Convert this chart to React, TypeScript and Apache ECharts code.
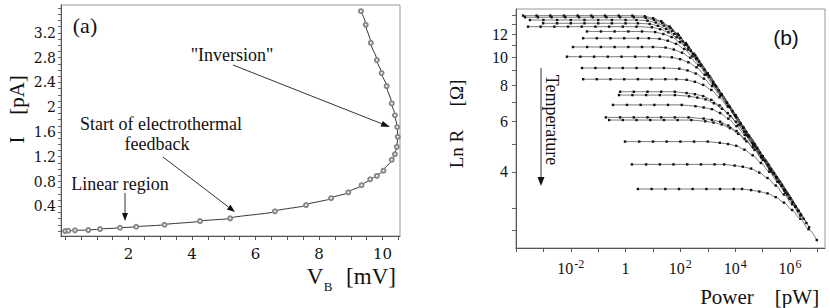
import React, { useEffect, useRef } from "react";
import * as echarts from "echarts";

// ---------- Panel (a): I–V curve ----------
const V_B_MV = [0.0, 0.1, 0.31, 0.73, 1.1, 1.73, 2.24, 3.13, 4.25, 5.2, 6.61, 7.59, 8.38, 8.92, 9.34, 9.61, 9.82, 10.03, 10.29, 10.39, 10.45, 10.48, 10.46, 10.39, 10.29, 10.13, 9.97, 9.82, 9.63, 9.47, 9.32];
const I_PA = [0, 0.005, 0.011, 0.016, 0.032, 0.053, 0.069, 0.102, 0.16, 0.205, 0.318, 0.42, 0.53, 0.625, 0.74, 0.835, 0.89, 0.975, 1.15, 1.24, 1.36, 1.52, 1.68, 1.87, 2.06, 2.34, 2.55, 2.76, 3.04, 3.33, 3.55];
const A_X_LABELS = [2, 4, 6, 8, 10];
const A_X_TICKS = [0, 0.5, 1, 1.5, 2, 2.5, 3, 3.5, 4, 4.5, 5, 5.5, 6, 6.5, 7, 7.5, 8, 8.5, 9, 9.5, 10, 10.5];
const A_Y_LABELS = [0.4, 0.8, 1.2, 1.6, 2, 2.4, 2.8, 3.2];
const A_Y_TICKS = [0, 0.1, 0.2, 0.3, 0.4, 0.5, 0.6, 0.7, 0.8, 0.9, 1, 1.1, 1.2, 1.3, 1.4, 1.5, 1.6, 1.7, 1.8, 1.9, 2, 2.1, 2.2, 2.3, 2.4, 2.5, 2.6, 2.7, 2.8, 2.9, 3, 3.1, 3.2, 3.3, 3.4, 3.5, 3.6];

// ---------- Panel (b): Ln R vs power (x stored as log10 of power in pW) ----------
const B_X_LABEL_EXP = [-2, 0, 2, 4, 6];
const B_X_TICK_EXP = [-4, -3, -2, -1, 0, 1, 2, 3, 4, 5, 6, 7];
const B_Y_LABELS = [4, 6, 8, 10, 12];
const B_Y_TICKS = [2.5, 3, 4, 5, 6, 7, 8, 9, 10, 11, 12, 13, 14];

const CURVE_LEVEL = [13.97, 13.79, 13.49, 13.14, 12.79, 12.31, 11.66, 10.87, 10.06, 9.19, 8.4, 7.6, 7.4, 6.84, 6.19, 6.06, 5.1, 4.25, 3.49];

const CURVE_FLAT_LOGP = [
  [-3.74, -3.25, -2.75, -2.25, -1.75, -1.25, -0.75, -0.25, 0.25],
  [-3.67, -3.2, -2.7, -2.2, -1.7, -1.2, -0.7, -0.2, 0.3],
  [-3.49, -3.0, -2.5, -2.0, -1.5, -1.0, -0.5, 0.0, 0.4],
  [-3.01, -2.5, -2.0, -1.5, -1.0, -0.5, 0.0, 0.45],
  [-3.56, -3.1, -2.6, -2.1, -1.6, -1.1, -0.6, -0.1, 0.4],
  [-1.41, -0.9, -0.4, 0.1, 0.6],
  [-1.55, -1.05, -0.55, -0.05, 0.45, 0.85],
  [-1.92, -1.4, -0.9, -0.4, 0.1, 0.6, 1.0],
  [-2.14, -1.65, -1.15, -0.65, -0.15, 0.35, 0.85, 1.25],
  [-1.59, -1.1, -0.6, -0.1, 0.4, 0.9, 1.4],
  [-1.55, -1.05, -0.55, -0.05, 0.45, 0.95, 1.45, 1.85],
  [-0.2, 0.3, 0.8, 1.3, 1.8],
  [-0.24, 0.25, 0.75, 1.25, 1.8],
  [-0.46, 0.05, 0.55, 1.05, 1.55, 2.05],
  [-0.72, -0.2, 0.3, 0.8, 1.3, 1.8, 2.3],
  [-0.6, -0.1, 0.4, 0.9, 1.4, 1.9, 2.4],
  [-0.02, 0.5, 1.0, 1.5, 2.0, 2.5, 3.0],
  [0.23, 0.75, 1.25, 1.75, 2.25, 2.75, 3.25, 3.6],
  [0.45, 0.95, 1.45, 1.95, 2.45, 2.95, 3.45, 3.95, 4.25],
];

const CURVE_BEND = [
  [[0.7, 13.9], [1.0, 13.69], [1.3, 13.36], [1.6, 12.82], [1.9, 12.08], [2.2, 11.22], [2.5, 10.3], [3.0, 8.78], [3.5, 7.43], [4.0, 6.3], [4.5, 5.33], [5.0, 4.52], [5.5, 3.83]],
  [[0.74, 13.72], [1.04, 13.51], [1.34, 13.18], [1.64, 12.66], [1.94, 11.93], [2.24, 11.07], [2.54, 10.16], [3.0, 8.78], [3.5, 7.43], [4.0, 6.3], [4.5, 5.33], [5.0, 4.52], [5.5, 3.83], [6.0, 3.24]],
  [[0.8, 13.42], [1.1, 13.22], [1.4, 12.9], [1.7, 12.38], [2.0, 11.67], [2.3, 10.83], [2.6, 9.94], [3.0, 8.78], [3.5, 7.43], [4.0, 6.3], [4.5, 5.33], [5.0, 4.52]],
  [[0.88, 13.07], [1.18, 12.88], [1.48, 12.56], [1.78, 12.06], [2.08, 11.37], [2.38, 10.55], [2.68, 9.68], [3.2, 8.22], [3.7, 6.96], [4.2, 5.89], [4.7, 4.99], [5.2, 4.23], [5.7, 3.58]],
  [[0.96, 12.73], [1.26, 12.53], [1.56, 12.23], [1.86, 11.74], [2.16, 11.06], [2.46, 10.27], [2.76, 9.43], [3.3, 7.94], [3.8, 6.73], [4.3, 5.7], [4.8, 4.83], [5.3, 4.09], [5.8, 3.46]],
  [[1.08, 12.25], [1.38, 12.06], [1.68, 11.77], [1.98, 11.3], [2.28, 10.65], [2.58, 9.88], [2.88, 9.07], [3.4, 7.68], [3.9, 6.51], [4.4, 5.51], [4.9, 4.67], [5.4, 3.96], [5.9, 3.35]],
  [[1.24, 11.6], [1.54, 11.43], [1.84, 11.15], [2.14, 10.7], [2.44, 10.09], [2.74, 9.36], [3.04, 8.59], [3.5, 7.43], [4.0, 6.3], [4.5, 5.33], [5.0, 4.52], [5.5, 3.83], [6.0, 3.24]],
  [[1.46, 10.82], [1.76, 10.65], [2.06, 10.39], [2.36, 9.98], [2.66, 9.4], [2.96, 8.73], [3.26, 8.01], [3.7, 6.96], [4.2, 5.89], [4.7, 4.99], [5.2, 4.23], [5.7, 3.58], [6.2, 3.03]],
  [[1.69, 10.01], [1.99, 9.86], [2.29, 9.62], [2.59, 9.24], [2.89, 8.7], [3.19, 8.08], [3.49, 7.41], [4.0, 6.3], [4.5, 5.33], [5.0, 4.52], [5.5, 3.83], [6.0, 3.24]],
  [[1.96, 9.14], [2.26, 9.01], [2.56, 8.79], [2.86, 8.44], [3.16, 7.95], [3.46, 7.38], [3.76, 6.77], [4.3, 5.7], [4.8, 4.83], [5.3, 4.09], [5.8, 3.46], [6.3, 2.93]],
  [[2.23, 8.36], [2.53, 8.23], [2.83, 8.03], [3.13, 7.71], [3.43, 7.27], [3.73, 6.75], [4.03, 6.19], [4.5, 5.33], [5.0, 4.52], [5.5, 3.83], [6.0, 3.24], [6.4, 2.84]],
  [[2.23, 7.52], [2.53, 7.45], [2.83, 7.34], [3.13, 7.12], [3.43, 6.81], [3.73, 6.41], [4.03, 5.98], [4.33, 5.52], [4.63, 5.05], [5.1, 4.37], [5.6, 3.7], [6.1, 3.14], [6.4, 2.84]],
  [[2.32, 7.33], [2.62, 7.25], [2.92, 7.15], [3.22, 6.93], [3.52, 6.63], [3.82, 6.25], [4.12, 5.82], [4.42, 5.37], [4.72, 4.91], [5.2, 4.23], [5.7, 3.58], [6.2, 3.03]],
  [[2.55, 6.77], [2.85, 6.7], [3.15, 6.61], [3.45, 6.41], [3.75, 6.13], [4.05, 5.77], [4.35, 5.38], [4.65, 4.97], [4.95, 4.54], [5.4, 3.96], [5.9, 3.35], [6.3, 2.93]],
  [[2.85, 6.13], [3.15, 6.07], [3.45, 5.98], [3.75, 5.8], [4.05, 5.55], [4.35, 5.22], [4.65, 4.87], [4.95, 4.49], [5.25, 4.11], [5.7, 3.58], [6.2, 3.03], [6.5, 2.75]],
  [[2.91, 6.0], [3.21, 5.94], [3.51, 5.85], [3.81, 5.68], [4.11, 5.43], [4.41, 5.11], [4.71, 4.77], [5.01, 4.4], [5.31, 4.02], [5.8, 3.46], [6.3, 2.93]],
  [[3.44, 5.05], [3.74, 5.0], [4.04, 4.93], [4.34, 4.78], [4.64, 4.57], [4.94, 4.3], [5.24, 4.01], [5.54, 3.7], [5.84, 3.39], [6.3, 2.93], [6.6, 2.66]],
  [[3.98, 4.21], [4.28, 4.17], [4.58, 4.11], [4.88, 3.98], [5.18, 3.81], [5.48, 3.59], [5.78, 3.34], [6.08, 3.09], [6.38, 2.82], [6.7, 2.57]],
  [[4.58, 3.46], [4.88, 3.42], [5.18, 3.37], [5.48, 3.27], [5.78, 3.13], [6.08, 2.95], [6.38, 2.75], [6.68, 2.53], [6.98, 2.32]],
];

const SERIF = '"Liberation Serif", "Times New Roman", serif';
const DSERIF = '"DejaVu Serif", serif';
const SANS = '"Liberation Sans", Arial, sans-serif';
const INK = "#111";

function arrow(x1: number, y1: number, x2: number, y2: number, head = 8, half = 3): any[] {
  const dx = x2 - x1, dy = y2 - y1;
  const L = Math.hypot(dx, dy);
  const ux = dx / L, uy = dy / L;
  const bx = x2 - ux * head, by = y2 - uy * head;
  return [
    { type: "line", silent: true, shape: { x1, y1, x2: bx, y2: by }, style: { stroke: "#333", lineWidth: 1 } },
    {
      type: "polygon", silent: true,
      shape: { points: [[x2, y2], [bx - uy * half, by + ux * half], [bx + uy * half, by - ux * half]] },
      style: { fill: INK },
    },
  ];
}

function txt(x: number, y: number, text: string, font: string, extra: any = {}): any {
  return {
    type: "text", x, y, silent: true, ...extra,
    style: { text, font, fill: INK, align: "center", verticalAlign: "middle" },
  };
}

export default function App() {
  const ref = useRef<HTMLDivElement>(null);
  useEffect(() => {
    if (!ref.current) return;
    const chart = echarts.init(ref.current, null, { renderer: "svg" });

    const bSeries = CURVE_LEVEL.map((lvl, i) => ({
      type: "line",
      xAxisIndex: 1,
      yAxisIndex: 1,
      smooth: 0.3,
      smoothMonotone: "x",
      data: [
        ...CURVE_FLAT_LOGP[i].map((p) => [p, Math.log(lvl)]),
        ...CURVE_BEND[i].map(([p, r]) => [p, Math.log(r)]),
      ],
      symbol: "rect",
      symbolSize: 2.4,
      lineStyle: { color: "#555", width: 0.8 },
      itemStyle: { color: "#111" },
      silent: true,
      z: 3,
    }));

    const axisLine = { show: true, onZero: false, lineStyle: { color: "#555", width: 1 } };

    const option: any = {
      animation: false,
      backgroundColor: "#fff",
      grid: [
        { left: 61, top: 5, width: 339, height: 231, containLabel: false, outerBoundsMode: "none", show: true, borderColor: "#999", borderWidth: 1, backgroundColor: "transparent" },
        { left: 516, top: 9, width: 309, height: 239, containLabel: false, outerBoundsMode: "none", show: true, borderColor: "#999", borderWidth: 1, backgroundColor: "transparent" },
      ],
      xAxis: [
        {
          gridIndex: 0, type: "value", min: -0.13, max: 10.55,
          axisLine,
          axisTick: { show: true, inside: false, length: 4, customValues: A_X_TICKS, lineStyle: { color: "#555" } },
          axisLabel: { customValues: A_X_LABELS, margin: 10, color: INK, fontFamily: DSERIF, fontSize: 15 },
          splitLine: { show: false },
        },
        {
          gridIndex: 1, type: "value", min: -4, max: 7.28,
          axisLine,
          axisTick: { show: true, inside: false, length: 4, customValues: B_X_TICK_EXP, lineStyle: { color: "#555" } },
          axisLabel: {
            customValues: B_X_LABEL_EXP,
            margin: 10,
            fontFamily: SERIF,
            fontSize: 16,
            color: INK,
            formatter: (v: number) => (v === 0 ? "{b|1}" : "{b|10}{s|" + v + "}"),
            rich: {
              b: { fontFamily: SERIF, fontSize: 16, color: INK, lineHeight: 16, padding: [4, 0, 0, 0] },
              s: { fontFamily: SERIF, fontSize: 12, color: INK, lineHeight: 12, verticalAlign: "top", padding: [0, 0, 0, 1] },
            },
          },
          splitLine: { show: false },
        },
      ],
      yAxis: [
        {
          gridIndex: 0, type: "value", min: -0.08, max: 3.65,
          axisLine,
          axisTick: { show: true, inside: false, length: 3, customValues: A_Y_TICKS, lineStyle: { color: "#666" } },
          axisLabel: {
            customValues: A_Y_LABELS, margin: 5, color: INK, fontFamily: DSERIF, fontSize: 14,
            formatter: (v: number) => String(+v.toFixed(1)),
          },
          splitLine: { show: false },
        },
        {
          gridIndex: 1, type: "value", min: 0.778, max: 2.69,
          axisLine,
          axisTick: { show: true, inside: false, length: 4, customValues: B_Y_TICKS.map((t) => Math.log(t)), lineStyle: { color: "#666" } },
          axisLabel: {
            customValues: B_Y_LABELS.map((t) => Math.log(t)), margin: 8, color: INK, fontFamily: SERIF, fontSize: 16,
            formatter: (v: number) => String(Math.round(Math.exp(v))),
          },
          splitLine: { show: false },
        },
      ],
      series: [
        {
          type: "line",
          xAxisIndex: 0,
          yAxisIndex: 0,
          smooth: 0.3,
          smoothMonotone: "y",
          data: V_B_MV.map((v, i) => [v, I_PA[i]]),
          symbol: "emptyCircle",
          symbolSize: 4,
          lineStyle: { color: "#333", width: 1 },
          itemStyle: { color: "#888", borderWidth: 0.8 },
          silent: true,
          z: 3,
        },
        ...bSeries,
      ],
      graphic: [
        // panel (a) texts
        txt(85, 25, "(a)", "22px " + SERIF),
        txt(232, 55, "\"Inversion\"", "18px " + SERIF),
        txt(161, 124, "Start of electrothermal", "18px " + SERIF),
        txt(157, 144, "feedback", "18px " + SERIF),
        txt(120, 184, "Linear region", "18px " + SERIF),
        ...arrow(233, 65, 390, 127, 9, 3),
        ...arrow(163, 157, 235, 212, 8, 3),
        ...arrow(125, 193, 125, 221, 8, 3),
        // axis names panel (a)
        txt(17, 140, "I", "21px " + SERIF, { rotation: Math.PI / 2 }),
        txt(17, 95, "[pA]", "21px " + SERIF, { rotation: Math.PI / 2 }),
        txt(315, 276, "V", "23px " + SERIF),
        txt(328, 286, "B", "13px " + SERIF),
        txt(371, 276, "[mV]", "23px " + SERIF),
        // panel (b) texts
        txt(786, 37, "(b)", "21px " + SANS),
        txt(552, 120, "Temperature", "18px " + SERIF, { rotation: -Math.PI / 2 }),
        ...arrow(541, 68, 541, 186, 9, 3.5),
        txt(456, 149, "Ln R", "19px " + SERIF, { rotation: Math.PI / 2 }),
        txt(456, 93, "[Ω]", "19px " + SERIF, { rotation: Math.PI / 2 }),
        txt(727, 297, "Power", "21px " + SERIF),
        txt(797, 297, "[pW]", "21px " + SERIF),
      ],
    };

    chart.setOption(option);
    return () => chart.dispose();
  }, []);

  return (
    <div
      ref={ref}
      style={{ position: "fixed", left: 0, top: 0, width: 830, height: 308, background: "#fff" }}
    />
  );
}
